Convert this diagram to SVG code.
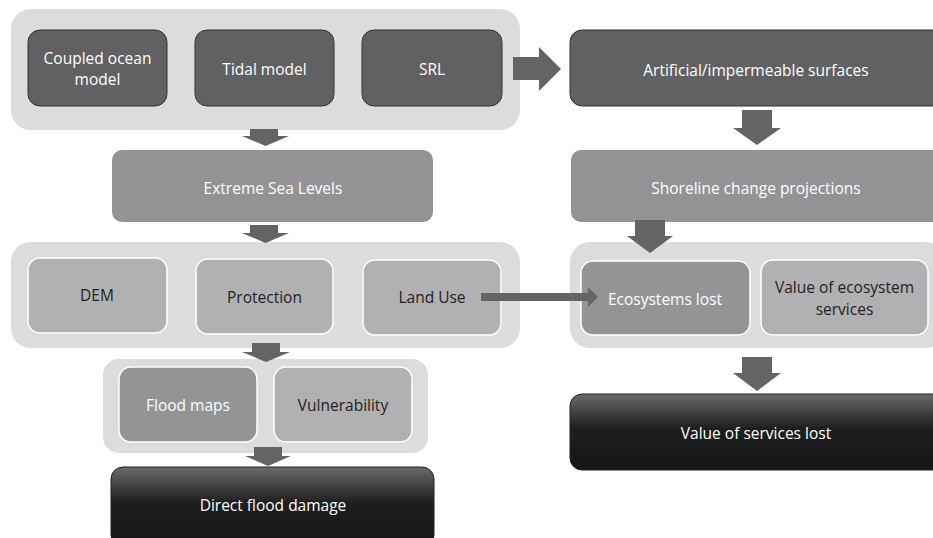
<svg xmlns="http://www.w3.org/2000/svg" width="933" height="538" viewBox="0 0 933 538">
<defs>
<linearGradient id="blk" x1="0" y1="0" x2="0" y2="1">
<stop offset="0" stop-color="#6a6a6c"/>
<stop offset="0.45" stop-color="#1e1e1e"/>
<stop offset="1" stop-color="#161616"/>
</linearGradient>
</defs>
<style>
.cont{fill:#dcdcde}
.dark{fill:#616163;stroke:#333335;stroke-width:1}
.mid{fill:#939396}
.midw{fill:#949497;stroke:#ffffff;stroke-width:1.5}
.lt{fill:#b1b1b3;stroke:#ffffff;stroke-width:1.5}
.black{fill:url(#blk);stroke:#222;stroke-width:1}
.arr{fill:#646466}
text{font-family:"Open Sans","Liberation Sans",sans-serif;font-size:15.5px;text-anchor:middle;dominant-baseline:central}
.w{fill:#ffffff}
.d{fill:#222222}
</style>
<g id="containers">
<rect class="cont" x="11" y="9" width="509" height="121" rx="20"/>
<rect class="cont" x="11" y="242" width="509" height="106" rx="20"/>
<rect class="cont" x="103" y="359" width="325" height="94" rx="16"/>
<rect class="cont" x="570" y="242" width="375" height="106" rx="20"/>
</g>
<g id="coupled"><rect class="dark" x="28" y="30" width="139" height="76" rx="12"/><text class="w" x="97.5" y="58">Coupled ocean</text><text class="w" x="97.5" y="79">model</text></g>
<g id="tidal"><rect class="dark" x="195" y="30" width="139" height="76" rx="12"/><text class="w" x="264.5" y="69">Tidal model</text></g>
<g id="srl"><rect class="dark" x="362" y="30" width="140" height="76" rx="12"/><text class="w" x="432" y="69">SRL</text></g>
<g id="artificial"><rect class="dark" x="570" y="30" width="375" height="76" rx="12"/><text class="w" x="756" y="70">Artificial/impermeable surfaces</text></g>
<g id="esl"><rect class="mid" x="112" y="150" width="321" height="72" rx="10"/><text class="w" x="273" y="188">Extreme Sea Levels</text></g>
<g id="shoreline"><rect class="mid" x="571" y="150" width="374" height="72" rx="10"/><text class="w" x="756" y="188">Shoreline change projections</text></g>
<g id="dem"><rect class="lt" x="28" y="258" width="139" height="75" rx="12"/><text class="d" x="97" y="295">DEM</text></g>
<g id="protection"><rect class="lt" x="196" y="259" width="137" height="75" rx="12"/><text class="d" x="264.5" y="297">Protection</text></g>
<g id="landuse"><rect class="lt" x="363" y="260" width="138" height="75" rx="12"/><text class="d" x="432" y="297">Land Use</text></g>
<g id="ecolost"><rect class="midw" x="581" y="261" width="169" height="74" rx="12"/><text class="w" x="665" y="299">Ecosystems lost</text></g>
<g id="valeco"><rect class="lt" x="761" y="260" width="167" height="75" rx="12"/><text class="d" x="844.5" y="287">Value of ecosystem</text><text class="d" x="844.5" y="309">services</text></g>
<g id="floodmaps"><rect class="midw" x="119" y="367" width="138" height="75" rx="12"/><text class="w" x="188" y="405">Flood maps</text></g>
<g id="vulnerability"><rect class="lt" x="274" y="367" width="138" height="75" rx="12"/><text class="d" x="343" y="405">Vulnerability</text></g>
<g id="valuelost"><rect class="black" x="570" y="394" width="375" height="76" rx="12"/><text class="w" x="756" y="433">Value of services lost</text></g>
<g id="direct"><rect class="black" x="111" y="467" width="323" height="80" rx="12"/><text class="w" x="273" y="505">Direct flood damage</text></g>
<g id="connectors">
<polygon class="arr" points="250,129 278,129 278,136 289,136 265.5,146 242,136 250,136"/>
<polygon class="arr" points="250,225 278,225 278,233 289,233 265.5,243 242,233 250,233"/>
<polygon class="arr" points="252,343 280,343 280,352 290,352 266,362 242,352 252,352"/>
<polygon class="arr" points="254,447 282,447 282,456 291,456 268,466 245,456 254,456"/>
<polygon class="arr" points="513,57 539,57 539,47 561,69 539,91 539,80 513,80"/>
<polygon class="arr" points="742,110 772,110 772,128 781,128 757,145 733,128 742,128"/>
<polygon class="arr" points="635,220 665,220 665,236 673,236 650,253 627,236 635,236"/>
<polygon class="arr" points="742,357 772,357 772,373 781,373 757,391 733,373 742,373"/>
<polygon class="arr" points="481,293 588,293 588,287 598,297 588,307 588,301 481,301"/>
</g>
</svg>
